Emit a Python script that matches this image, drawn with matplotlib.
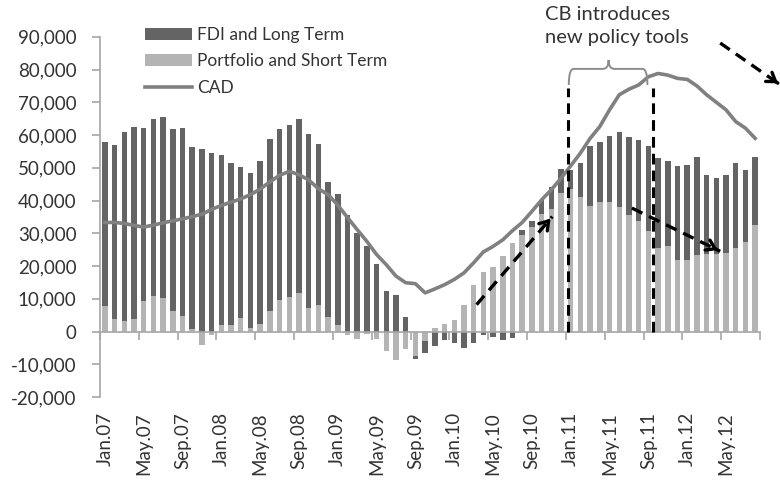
import matplotlib
matplotlib.use('Agg')
import matplotlib.pyplot as plt
import numpy as np
from matplotlib.path import Path
from matplotlib.patches import PathPatch

plt.rcParams['font.family'] = ['Lato', 'DejaVu Sans']

# monthly data Jan.07 .. Aug.12
months = ['Jan', 'Feb', 'Mar', 'Apr', 'May', 'Jun', 'Jul', 'Aug', 'Sep', 'Oct', 'Nov', 'Dec']
periods = [m + '.' + '%02d' % y for y in range(7, 13) for m in months][:68]

portfolio = [7700, 3900, 3100, 3900, 9200, 10800, 10300, 6200, 4700, 800, -4000, -1200,
             2100, 2100, 4200, 1100, 2400, 6400, 9500, 10600, 11800, 7200, 8000, 4500,
             2100, -1000, -2300, -700, -2400, -6100, -8800, -5200, -7600, -3000, 1000, 2300,
             3400, 8100, 14200, 18100, 19700, 23000, 27000, 29500, 32000, 36000, 37400, 42300,
             43500, 41000, 38200, 39500, 39500, 37900, 35500, 33600, 30600, 25500, 26200, 21700,
             21700, 23300, 23800, 23800, 24000, 25500, 27300, 32600]

fdi = [50100, 53000, 57700, 58600, 53000, 54000, 55200, 55600, 57500, 55400, 55800, 54500,
       51800, 49500, 46100, 47200, 49800, 52500, 52400, 52600, 53000, 53100, 49400, 41300,
       39900, 35700, 30100, 26200, 20600, 12400, 11200, 4400, -700, -3600, -4300, -2700,
       -3400, -5100, -3600, -1000, -1700, -2500, -2000, 1500, 1800, 4300, 6800, 7200,
       5900, 10400, 18300, 18300, 20300, 22900, 24000, 24900, 26200, 27400, 26000, 28700,
       29200, 29900, 24100, 23100, 23700, 26100, 21900, 20600]

cad = [33300, 33300, 33000, 32400, 31900, 32500, 33200, 33800, 34400, 35100, 35800, 37300,
       38500, 39500, 40500, 41800, 43500, 45700, 47700, 48900, 47900, 46300, 43600, 41800,
       38600, 34800, 31100, 27500, 23500, 20400, 16900, 14900, 14600, 11800, 13000, 14300,
       15900, 17900, 21000, 24300, 26000, 28000, 30800, 33300, 36700, 40200, 43300, 46800,
       50600, 54500, 59000, 62600, 67700, 72300, 74000, 75300, 77800, 78800, 78300, 77300,
       77000, 75000, 72300, 70000, 67700, 64100, 62100, 59000]

dark = '#646464'
light = '#b4b4b4'
line_gray = '#808080'
axis_gray = '#a6a6a6'
txt = '#333333'

fig = plt.figure(figsize=(7.8, 4.82), dpi=100)
ax = fig.add_axes([100 / 780, 1 - 397 / 482, 660 / 780, 360.2 / 482])

x = np.arange(len(periods))
port = np.array(portfolio)
fd = np.array(fdi)
pos_base = np.maximum(port, 0)
neg_base = np.minimum(port, 0)
fdi_bottom = np.where(fd >= 0, pos_base, neg_base)

w = 0.56
h_port = ax.bar(x, port, w, color=light, label='Portfolio and Short Term', zorder=2)
h_fdi = ax.bar(x, fd, w, bottom=fdi_bottom, color=dark, label='FDI and Long Term', zorder=2)
h_cad, = ax.plot(x, cad, color=line_gray, lw=2.6, label='CAD', zorder=4)

ax.set_xlim(-0.5, len(periods) - 0.5)
ax.set_ylim(-20000, 90000)
ax.set_yticks(np.arange(-20000, 90001, 10000))
ax.yaxis.set_major_formatter(matplotlib.ticker.FuncFormatter(lambda v, p: '{:,.0f}'.format(v)))

for s in ['top', 'right']:
    ax.spines[s].set_visible(False)
ax.spines['left'].set_color(axis_gray)
ax.spines['bottom'].set_color(axis_gray)
ax.spines['bottom'].set_position(('data', 0))
ax.spines['left'].set_linewidth(1.2)
ax.spines['bottom'].set_linewidth(1.2)

ax.set_xticks(x[::4])
ax.set_xticklabels(periods[::4], rotation=90)
ax.set_xticks(np.arange(-0.5, len(periods), 4), minor=True)
ax.tick_params(axis='x', which='major', length=0, pad=58, labelsize=13.5, labelcolor=txt)
ax.tick_params(axis='x', which='minor', length=6, width=1.2, color=axis_gray)
ax.tick_params(axis='y', length=6, width=1.2, color=axis_gray, pad=11, labelsize=13.5,
               labelcolor=txt)

# legend
leg = fig.legend([h_fdi, h_port, h_cad], ['FDI and Long Term', 'Portfolio and Short Term', 'CAD'],
                 loc='upper left', bbox_to_anchor=(145 / 780, 1 - 27 / 482),
                 frameon=False, fontsize=12.5, handlelength=2.7, handletextpad=0.3,
                 labelspacing=0.6, borderpad=0, borderaxespad=0)
for t in leg.get_texts():
    t.set_color(txt)

# policy window markers
policy_start = 47.7
policy_end = 56.5
ax.vlines([policy_start, policy_end], 0, 74400, colors='black', linestyles=(0, (3.5, 2)),
          lw=2.2, zorder=5)

# bracket
bx0, bx1, bxm = 47.8, 55.9, 51.9
yb, yh, yp = 75300, 80200, 82900
verts = [(bx0, yb), (bx0, yh), (bx0 + 0.5, yh), (bxm - 0.6, yh), (bxm, yh), (bxm, yp),
         (bxm, yh), (bxm + 0.6, yh), (bx1 - 0.5, yh), (bx1, yh), (bx1, yb)]
codes = [Path.MOVETO, Path.CURVE3, Path.CURVE3, Path.LINETO, Path.CURVE3, Path.CURVE3,
         Path.CURVE3, Path.CURVE3, Path.LINETO, Path.CURVE3, Path.CURVE3]
ax.add_patch(PathPatch(Path(verts, codes), fill=False, edgecolor='#8c8c8c', lw=1.4,
                       clip_on=False, zorder=5))

fig.text(545 / 780, 1 - 6 / 482, 'CB introduces\nnew policy tools', ha='left', va='top',
         fontsize=14.5, color=txt, linespacing=1.45)

# dashed arrows
arrows = [((38.3, 8200), (46.1, 35100)),
          ((54.3, 37700), (63.4, 24500)),
          ((63.4, 88100), (69.6, 75300))]
for (x0, y0), (x1, y1) in arrows:
    ax.plot([x0, x1], [y0, y1], color='black', lw=2.4, ls=(0, (3.5, 2.2)),
            clip_on=False, zorder=6)
    ax.annotate('', xy=(x1, y1), xytext=(x1 - (x1 - x0) * 0.08, y1 - (y1 - y0) * 0.08),
                arrowprops=dict(arrowstyle='->,head_length=0.6,head_width=0.4',
                                color='black', lw=2.4),
                annotation_clip=False, zorder=6)

fig.savefig('out.png', dpi=100)
